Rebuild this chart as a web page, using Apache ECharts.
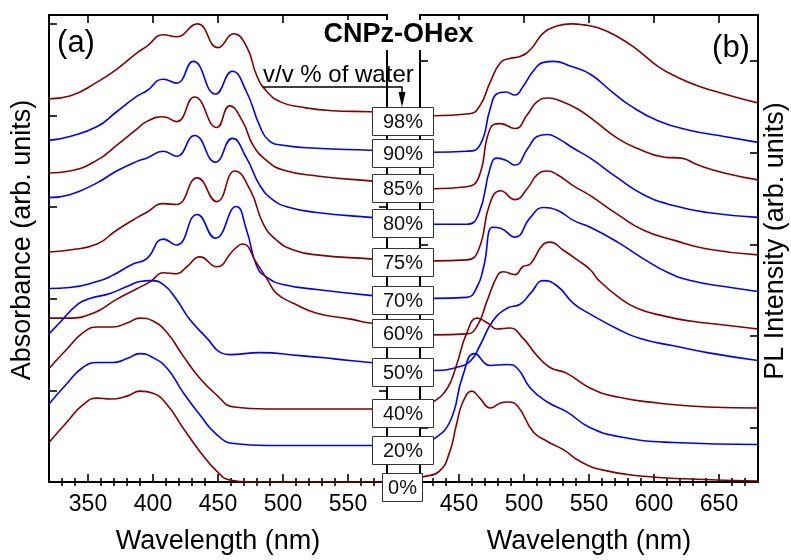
<!DOCTYPE html>
<html><head><meta charset="utf-8">
<script src="https://cdn.jsdelivr.net/npm/echarts@6/dist/echarts.min.js"></script>
<style>html,body{margin:0;padding:0;background:#fff}#c{width:791px;height:560px}</style>
</head><body><div id="c"></div>
<script>
// ---------------- DATA ----------------
const waterLabels = ['98%','90%','85%','80%','75%','70%','60%','50%','40%','20%','0%'];

// x ticks (nm)
const absMajorTicks = [350,400,450,500,550];
const absMinorTicks = [330,340,360,370,380,390,410,420,430,440,460,470,480,490,510,520,530,540,560,570];
const plMajorTicks = [450,500,550,600,650];
const plMinorTicks = [430,440,460,470,480,490,510,520,530,540,560,570,580,590,610,620,630,640,660,670];
// y ticks (arb. units)
const absYTicks = [92.8,185.6,278.4,371.2,464];
const plYTicks = [55,147.8,240.6,333.4,426.2];

// Absorbance (a): [wavelength nm, stacked absorbance arb. units]
const abs98 = [[320,388],[336,391],[357,405],[372,418],[388,435],[395,441],[408,453],[418,451],[434,464],[450,440],[462,454],[472,441],[480,411],[488,395],[498,385],[513,380],[538,376],[567,375],[580,374]];
const abs90 = [[320,346],[336,350],[357,360],[372,375],[388,391],[395,396],[408,408],[418,404],[431,426],[448,393],[461,416],[472,395],[482,361],[489,346],[500,341],[526,338],[567,336],[580,335]];
const abs85 = [[320,313],[336,315],[357,326],[372,341],[388,358],[395,365],[408,370],[418,365],[432,390],[449,359],[459,381],[469,365],[477,341],[488,325],[500,316],[526,310],[567,305],[580,304]];
const abs80 = [[320,288],[336,291],[357,303],[372,315],[388,325],[395,328],[408,335],[418,330],[432,351],[448,324],[461,348],[472,328],[482,301],[492,286],[505,278],[526,273],[567,268],[580,267]];
const abs75 = [[320,233],[336,235],[357,241],[372,255],[388,268],[395,273],[408,282],[418,281],[434,308],[449,284],[463,315],[475,295],[485,261],[495,245],[508,235],[526,230],[567,226],[580,225]];
const abs70 = [[320,196],[336,197],[357,203],[367,208],[385,221],[395,226],[408,246],[418,240],[434,271],[448,247],[464,279],[472,255],[480,218],[488,207],[500,200],[526,195],[567,189],[580,188]];
const abs60 = [[320,166],[334,166],[354,171],[372,185],[388,196],[398,203],[408,212],[418,211],[426,218],[436,228],[449,218],[462,235],[469,241],[480,221],[488,205],[495,191],[508,181],[526,171],[552,165],[567,161],[580,160]];
const abs50 = [[320,150],[328,161],[342,180],[352,186],[367,191],[380,198],[390,203],[398,204],[408,200],[418,185],[428,165],[442,145],[452,131],[459,129],[482,131],[513,128],[538,125],[567,121],[580,120]];
const abs40 = [[320,115],[334,135],[346,151],[357,157],[369,157],[380,161],[390,166],[400,163],[411,151],[423,128],[436,105],[449,88],[462,76],[488,74],[567,74],[580,74]];
const abs20 = [[320,79],[334,100],[346,116],[357,121],[369,121],[380,125],[390,130],[400,126],[411,115],[423,91],[436,68],[449,48],[462,39],[488,37],[567,37],[580,37]];
const abs0  = [[320,40],[334,61],[346,78],[357,85],[367,84],[380,87],[390,92],[400,90],[411,78],[423,55],[436,31],[449,11],[459,2],[475,0],[567,0],[580,0]];

// PL (b): [wavelength nm, stacked PL intensity arb. units]
const pl98 = [[420,371],[430,371],[458,373],[466,381],[474,405],[482,425],[489,429],[497,431],[505,438],[515,455],[526,462],[536,464],[546,463],[557,460],[572,451],[587,438],[603,421],[618,410],[634,401],[649,395],[665,389],[680,384]];
const pl90 = [[420,334],[430,334],[456,335],[466,341],[474,378],[479,393],[486,395],[493,392],[499,400],[507,416],[515,425],[523,426],[536,421],[551,413],[567,396],[582,381],[603,366],[628,356],[654,350],[680,344]];
const pl85 = [[420,297],[430,297],[456,299],[465,308],[474,358],[482,363],[493,358],[503,373],[510,385],[519,389],[528,386],[541,378],[554,366],[572,348],[587,338],[608,329],[621,328],[634,321],[654,313],[680,306]];
const pl80 = [[420,261],[430,261],[456,261],[465,271],[474,318],[479,328],[486,326],[493,321],[503,338],[510,350],[518,352],[526,348],[538,338],[551,328],[572,308],[592,291],[615,280],[641,273],[680,268]];
const pl75 = [[420,224],[430,224],[456,225],[465,235],[474,283],[482,295],[493,286],[503,298],[510,311],[518,315],[526,311],[538,300],[551,290],[572,271],[592,255],[615,245],[641,236],[680,230]];
const pl70 = [[420,186],[430,186],[456,187],[464,198],[469,218],[476,258],[482,257],[493,248],[505,268],[515,278],[526,275],[538,265],[551,258],[572,243],[592,226],[611,212],[628,204],[654,198],[680,193]];
const pl60 = [[420,149],[430,149],[456,150],[464,158],[472,185],[480,210],[484,213],[493,210],[499,218],[505,221],[515,241],[520,243],[530,235],[541,225],[551,215],[557,205],[572,188],[587,176],[608,168],[628,163],[654,159],[680,155]];
const pl50 = [[420,113],[430,113],[448,116],[459,123],[466,138],[476,163],[487,176],[497,180],[505,191],[515,204],[526,198],[538,181],[551,170],[572,155],[590,145],[615,138],[641,131],[680,123]];
const pl40 = [[420,76],[430,81],[441,95],[448,118],[456,151],[464,166],[472,161],[479,155],[489,156],[499,146],[510,128],[520,116],[533,110],[551,95],[572,86],[603,80],[641,76],[680,75]];
const pl20 = [[420,38],[430,43],[443,61],[453,108],[462,130],[474,118],[487,119],[495,115],[505,95],[518,81],[533,71],[551,55],[577,45],[615,40],[680,38]];
const pl0  = [[420,4],[422,5],[435,11],[443,31],[448,58],[453,81],[460,92],[466,85],[474,75],[482,80],[487,81],[495,77],[507,51],[518,41],[530,33],[543,21],[561,12],[590,6],[628,3],[680,1]];

const absSeries = [abs98,abs90,abs85,abs80,abs75,abs70,abs60,abs50,abs40,abs20,abs0];
const plSeries  = [pl98,pl90,pl85,pl80,pl75,pl70,pl60,pl50,pl40,pl20,pl0];

// ---------------- LAYOUT / STYLE ----------------
const FONT = '"Liberation Sans", Arial, sans-serif';
const RED = '#850000', BLUE = '#0000ff';
const boxTops = [107,139,174,209,248,286,319,358,399,436,473];
const Y_MAX = 473;

function xAxes(gridIndex, min, max, majors, minors) {
  const line = {show:true, onZero:false, lineStyle:{color:'#000', width:2}};
  const base = {type:'value', gridIndex, min, max, splitLine:{show:false}};
  return [
    Object.assign({}, base, {position:'bottom', axisLine:line,
      axisTick:{show:true, inside:true, length:8, customValues:majors, lineStyle:{color:'#000', width:1.6}},
      axisLabel:{show:true, customValues:majors, fontSize:23, fontFamily:FONT, color:'#000', margin:11},
      name:'Wavelength (nm)', nameLocation:'middle', nameGap:46,
      nameTextStyle:{fontSize:27, fontFamily:FONT, color:'#000'}}),
    Object.assign({}, base, {position:'bottom', axisLine:{show:false},
      axisTick:{show:true, inside:true, length:4, customValues:minors, lineStyle:{color:'#000', width:1.6}},
      axisLabel:{show:false}}),
    Object.assign({}, base, {position:'top', axisLine:line,
      axisTick:{show:true, inside:true, length:8, customValues:majors, lineStyle:{color:'#000', width:1.6}},
      axisLabel:{show:false}}),
    Object.assign({}, base, {position:'top', axisLine:{show:false},
      axisTick:{show:true, inside:true, length:4, customValues:minors, lineStyle:{color:'#000', width:1.6}},
      axisLabel:{show:false}})
  ];
}
function yAxes(gridIndex, ticks) {
  return ['left','right'].map(pos => ({
    type:'value', gridIndex, min:0, max:Y_MAX, position:pos, splitLine:{show:false},
    axisLine:{show:true, onZero:false, lineStyle:{color:'#000', width:2}},
    axisTick:{show:true, inside:true, length:8, customValues:ticks, lineStyle:{color:'#000', width:1.6}},
    axisLabel:{show:false}
  }));
}

const series = [];
absSeries.forEach((d, i) => series.push({
  name:'abs ' + waterLabels[i], type:'line', xAxisIndex:0, yAxisIndex:0, data:d,
  showSymbol:false, smooth:0.5, clip:true, animation:false,
  lineStyle:{color: i % 2 ? BLUE : RED, width:1.6}
}));
plSeries.forEach((d, i) => series.push({
  name:'pl ' + waterLabels[i], type:'line', xAxisIndex:4, yAxisIndex:2, data:d,
  showSymbol:false, smooth:0.5, clip:true, animation:false,
  lineStyle:{color: i % 2 ? BLUE : RED, width:1.6}
}));

const graphic = [
  {type:'rect', shape:{x:320, y:20, width:158, height:30}, style:{fill:'#fff'}, z:50},
  {type:'text', x:398.5, y:35, style:{text:'CNPz-OHex', font:'bold 27px ' + FONT, fill:'#000', align:'center', verticalAlign:'middle'}, z:51},
  {type:'text', x:76, y:43, style:{text:'(a)', font:'31px ' + FONT, fill:'#000', align:'center', verticalAlign:'middle'}, z:51},
  {type:'text', x:731, y:48, style:{text:'(b)', font:'31px ' + FONT, fill:'#000', align:'center', verticalAlign:'middle'}, z:51},
  {type:'text', x:23, y:240, rotation:Math.PI/2, style:{text:'Absorbance (arb. units)', font:'27px ' + FONT, fill:'#000', align:'center', verticalAlign:'middle'}, z:51},
  {type:'text', x:776, y:241, rotation:Math.PI/2, style:{text:'PL Intensity (arb. units)', font:'27px ' + FONT, fill:'#000', align:'center', verticalAlign:'middle'}, z:51},
  {type:'text', x:263, y:75, style:{text:'v/v % of water', font:'24px ' + FONT, fill:'#000', align:'left', verticalAlign:'middle'}, z:51},
  {type:'polyline', shape:{points:[[263,87],[402,87],[402,100]]}, style:{stroke:'#000', lineWidth:1.5, fill:null}, z:51},
  {type:'polygon', shape:{points:[[398.5,92],[405.5,92],[402,107]]}, style:{fill:'#000'}, z:51}
];
waterLabels.forEach((lab, i) => {
  const last = i === waterLabels.length - 1;
  const bx = last ? 382 : 372, bw = last ? 40 : 61;
  graphic.push({type:'rect', shape:{x:bx + 0.5, y:boxTops[i] + 0.5, width:bw, height:28},
    style:{fill:'#fff', stroke:'#333', lineWidth:1}, z:60});
  graphic.push({type:'text', x:bx + bw / 2 + 0.5, y:boxTops[i] + 15,
    style:{text:lab, font:'20px ' + FONT, fill:'#111', align:'center', verticalAlign:'middle'}, z:61});
});

const chart = echarts.init(document.getElementById('c'), null, {renderer:'canvas'});
chart.setOption({
  animation:false,
  backgroundColor:'#fff',
  grid:[
    {left:49, top:15, width:338, height:473},
    {left:420, top:15, width:338, height:473}
  ],
  xAxis: xAxes(0, 320, 580, absMajorTicks, absMinorTicks).concat(xAxes(1, 420, 680, plMajorTicks, plMinorTicks)),
  yAxis: yAxes(0, absYTicks).concat(yAxes(1, plYTicks)),
  series,
  graphic
});
</script></body></html>
